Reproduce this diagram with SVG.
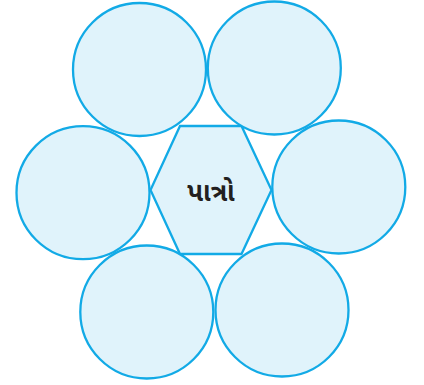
<svg xmlns="http://www.w3.org/2000/svg" width="424" height="385" viewBox="0 0 424 385">
<style>
.c{fill:#e0f3fb;stroke:#12aae6;stroke-width:2.3}
.t{font-family:"Noto Sans Gujarati","Noto Sans","DejaVu Sans",sans-serif;font-size:26px;font-weight:bold;fill:#231f20;text-anchor:middle}
</style>
<rect width="424" height="385" fill="#ffffff"/>
<g id="hub">
<polygon class="c" points="180,126 241.5,126 271.5,190 241.5,254 180,254 150.5,190"/>
<text class="t" x="211" y="201">પાત્રો</text>
</g>
<g id="n1"><circle class="c" cx="139.5" cy="69.5" r="66.5"/></g>
<g id="n2"><circle class="c" cx="274.3" cy="68" r="66.5"/></g>
<g id="n3"><circle class="c" cx="83" cy="192.7" r="66.5"/></g>
<g id="n4"><circle class="c" cx="338.8" cy="187" r="66.5"/></g>
<g id="n5"><circle class="c" cx="146.8" cy="312" r="66.5"/></g>
<g id="n6"><circle class="c" cx="282" cy="310" r="66.5"/></g>
<g id="connectors"></g>
</svg>
